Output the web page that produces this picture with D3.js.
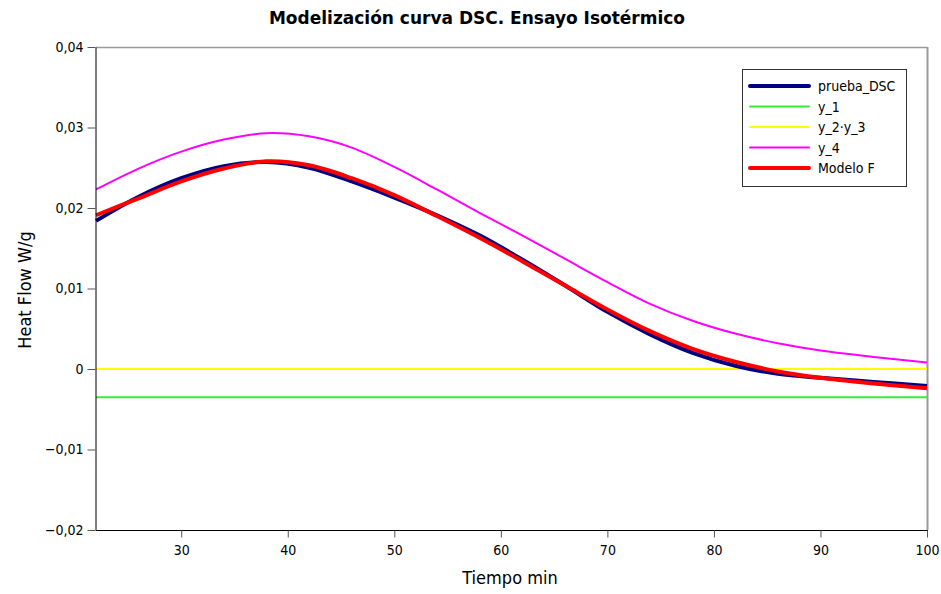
<!DOCTYPE html>
<html>
<head>
<meta charset="utf-8">
<script src="https://cdn.jsdelivr.net/npm/d3@7/dist/d3.min.js"></script>
<style>
  html, body { margin: 0; padding: 0; background: #fff; }
  svg { display: block; }
</style>
</head>
<body>
<svg id="chart" width="941" height="594"></svg>
<script>
// Time (min) sample points of the isothermal DSC run
const tiempo = [22, 26, 30, 34, 38, 42, 46, 50, 54, 58, 62, 66, 70, 74, 78, 82, 86, 90, 95, 100];

// Measured heat flow (W/g)
const pruebaDSC = [0.0184, 0.0214, 0.0237, 0.0252, 0.0257, 0.0250, 0.0233, 0.0213, 0.0191, 0.0166,
                   0.0136, 0.0104, 0.0071, 0.0043, 0.0020, 0.0004, -0.0006, -0.0011, -0.0016, -0.0021];

// Model components
const y1 = [-0.0035, -0.0035, -0.0035, -0.0035, -0.0035, -0.0035, -0.0035, -0.0035, -0.0035, -0.0035,
            -0.0035, -0.0035, -0.0035, -0.0035, -0.0035, -0.0035, -0.0035, -0.0035, -0.0035, -0.0035];
const y2y3 = [0, 0, 0, 0, 0, 0, 0, 0, 0, 0, 0, 0, 0, 0, 0, 0, 0, 0, 0, 0];
const y4 = [0.0223, 0.0249, 0.0270, 0.0285, 0.0293, 0.0289, 0.0275, 0.0251, 0.0223, 0.0194,
            0.0166, 0.0137, 0.0108, 0.0081, 0.0060, 0.0044, 0.0032, 0.0023, 0.0015, 0.0008];

// Fitted model
const modeloF = [0.0191, 0.0212, 0.0233, 0.0249, 0.0258, 0.0253, 0.0237, 0.0216, 0.0190, 0.0163,
                 0.0134, 0.0104, 0.0074, 0.0047, 0.0025, 0.0009, -0.0003, -0.0011, -0.0018, -0.0024];

const xTicks = [30, 40, 50, 60, 70, 80, 90, 100];
const yTicks = [-0.02, -0.01, 0, 0.01, 0.02, 0.03, 0.04];

const seriesNames = ["prueba_DSC", "y_1", "y_2·y_3", "y_4", "Modelo F"];
const seriesColors = ["#000080", "#33ee33", "#ffff00", "#ff00ff", "#ff0000"];
const seriesWidths = [4, 2, 2, 2, 4];
const seriesData = [pruebaDSC, y1, y2y3, y4, modeloF];
const drawOrder = [1, 2, 3, 0, 4];

const svg = d3.select("#chart");
const plotL = 96, plotR = 927, plotT = 47, plotB = 530;
const condensed = "'DejaVu Sans Condensed', 'DejaVu Sans', sans-serif";

const x = d3.scaleLinear().domain([22, 100]).range([plotL, plotR]);
const y = d3.scaleLinear().domain([-0.02, 0.04]).range([plotB, plotT]);

const fmt = v => v === 0 ? "0" : d3.format(".2f")(v).replace(".", ",").replace("-", "\u2212");

// Frame: grey top and right edges
svg.append("line").attr("x1", plotL).attr("x2", plotR).attr("y1", plotT + 0.5).attr("y2", plotT + 0.5)
  .attr("stroke", "#9a9a9a").attr("stroke-width", 1.5);
svg.append("line").attr("x1", plotR + 0.5).attr("x2", plotR + 0.5).attr("y1", plotT).attr("y2", plotB)
  .attr("stroke", "#9a9a9a").attr("stroke-width", 2);

// Series lines
const line = d3.line().x((d, i) => x(tiempo[i])).y(d => y(d)).curve(d3.curveCatmullRom.alpha(0.5));
const plot = svg.append("g");
drawOrder.forEach(k => {
  plot.append("path")
    .datum(seriesData[k])
    .attr("d", line)
    .attr("fill", "none")
    .attr("stroke", seriesColors[k])
    .attr("stroke-width", seriesWidths[k])
    .attr("stroke-linejoin", "round");
});

// Axes
const xAxis = d3.axisBottom(x).tickValues(xTicks).tickSize(7).tickSizeOuter(0).tickFormat(d3.format("d"));
const gx = svg.append("g").attr("transform", `translate(0,${plotB + 0.5})`).call(xAxis);
gx.select(".domain").attr("stroke", "#000").attr("d", `M${plotL},0H${plotR + 1}`);
gx.selectAll(".tick line").attr("stroke", "#555");
gx.selectAll("text").attr("font-family", condensed)
  .attr("font-size", 14).attr("fill", "#000").attr("y", 24.5).attr("dy", 0);

const yAxis = d3.axisLeft(y).tickValues(yTicks).tickSize(8).tickSizeOuter(0).tickFormat(fmt);
const gy = svg.append("g").attr("transform", `translate(${plotL - 0.5},0)`).call(yAxis);
gy.select(".domain").attr("stroke", "#000");
gy.selectAll(".tick line").attr("stroke", "#555");
gy.selectAll("text").attr("font-family", condensed)
  .attr("font-size", 14).attr("fill", "#000").attr("x", -12);

// Title and axis titles
svg.append("text").attr("x", 477).attr("y", 24).attr("text-anchor", "middle")
  .attr("font-family", "'DejaVu Sans', sans-serif")
  .attr("font-weight", "bold").attr("font-size", 17).attr("fill", "#000")
  .text("Modelización curva DSC. Ensayo Isotérmico");

svg.append("text").attr("x", 510).attr("y", 584).attr("text-anchor", "middle")
  .attr("font-family", condensed).attr("font-size", 18).attr("fill", "#000")
  .text("Tiempo min");

svg.append("text").attr("transform", "translate(31,290) rotate(-90)").attr("text-anchor", "middle")
  .attr("font-family", condensed).attr("font-size", 18).attr("fill", "#000")
  .text("Heat Flow W/g");

// Legend
const lg = svg.append("g").attr("transform", "translate(742,69)");
lg.append("rect").attr("x", 0.5).attr("y", 0.5).attr("width", 164).attr("height", 117)
  .attr("fill", "#fff").attr("stroke", "#333").attr("stroke-width", 1);
seriesNames.forEach((name, i) => {
  const yy = 17 + i * 20.5;
  lg.append("line").attr("x1", 8).attr("x2", 67).attr("y1", yy).attr("y2", yy)
    .attr("stroke", seriesColors[i]).attr("stroke-width", seriesWidths[i]).attr("stroke-linecap", "round");
  lg.append("text").attr("x", 76).attr("y", yy + 5)
    .attr("font-family", condensed).attr("font-size", 14)
    .attr("fill", "#000").text(name);
});
</script>
</body>
</html>
